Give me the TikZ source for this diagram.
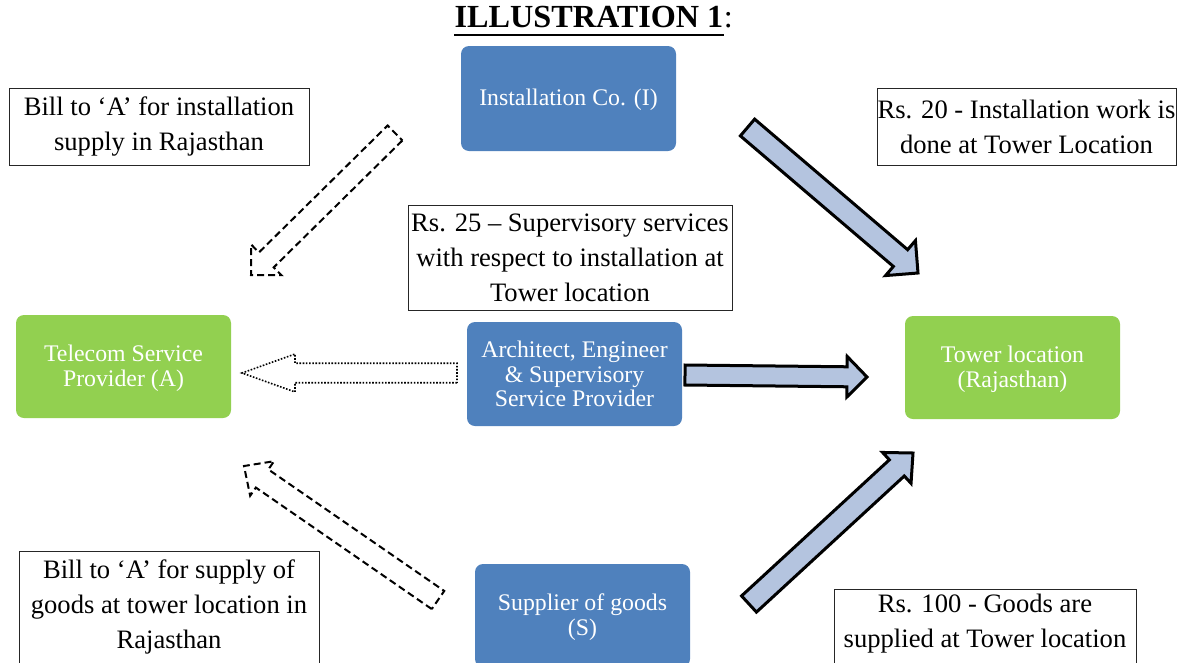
\documentclass[tikz,border=0pt]{standalone}
\usepackage{fontspec}
\setmainfont{Liberation Serif}
\usetikzlibrary{calc}
\definecolor{boxblue}{HTML}{4F81BD}
\definecolor{boxgreen}{HTML}{92D050}
\definecolor{arrfill}{HTML}{B4C4DF}
\newcommand\blockarr[6]{% style, tail, tip, half shaft, half head, head length
  \path ($(#3)!#6!(#2)$) coordinate (hb);
  \draw[#1] ($(#2)!#4!90:(#3)$) -- ($(hb)!#4!90:(#3)$) -- ($(hb)!#5!90:(#3)$) -- (#3)
    -- ($(hb)!#5!-90:(#3)$) -- ($(hb)!#4!-90:(#3)$) -- ($(#2)!#4!-90:(#3)$) -- cycle;
}
\newcommand\lowered[1]{\raisebox{-2.5pt}[\height][\depth]{\begin{tabular}{@{}c@{}}#1\end{tabular}}}
\tikzset{
  cbox/.style={rounded corners=8pt, minimum width=215pt, text=white, align=center,
    font=\fontsize{23.8}{24.5}\selectfont, inner sep=0pt},
  bluebox/.style={cbox, fill=boxblue},
  greenbox/.style={cbox, fill=boxgreen},
  wbox/.style={draw=black!85, line width=1pt, fill=white, align=center,
    font=\fontsize{26.6}{35}\selectfont, inner sep=0pt},
  wtxt/.style={align=center, font=\fontsize{26.6}{35}\selectfont, inner sep=0pt},
  dasharr/.style={line width=2pt, dash pattern=on 7pt off 4pt, line join=miter},
  dotarr/.style={line width=1.6pt, dash pattern=on 1.6pt off 1.6pt},
  solidarr/.style={line width=3pt, fill=arrfill, draw=black, line join=miter}
}
\begin{document}
\begin{tikzpicture}[x=1pt, y=-1pt]
\useasboundingbox (0,0) rectangle (1183,662);
\clip (0,0) rectangle (1183,662);

% title
\node[anchor=base, inner sep=0pt, font=\fontsize{32.2}{36}\selectfont\bfseries] (ttl) at (589,27) {ILLUSTRATION 1};
\node[anchor=base west, inner sep=0pt, font=\fontsize{32.2}{36}\selectfont] (colon) at (ttl.base east) {:};
\draw[line width=2.8pt] ($(ttl.base west)+(0,8)$) -- ($(ttl.base east)+(0,8)$);

% coloured boxes
\node[bluebox, minimum height=105pt] (I) at (568.5,98.5) {\lowered{Installation Co. (I)}};
\node[greenbox, minimum height=103pt] (A) at (123.5,366.5) {\lowered{Telecom Service\\Provider (A)}};
\node[bluebox, minimum height=104pt] (E) at (574.5,374) {Architect, Engineer\\\& Supervisory\\Service Provider};
\node[greenbox, minimum height=103pt] (T) at (1012.5,367.5) {\lowered{Tower location\\(Rajasthan)}};
\node[bluebox, minimum height=103pt] (S) at (582.5,615.5) {\lowered{Supplier of goods\\(S)}};

% white text boxes
\node[wbox, minimum width=300pt, minimum height=77pt] (b1) at (159,126.5) {Bill to `A' for installation\\supply in Rajasthan};
\node[wbox, minimum width=299pt, minimum height=77pt] (r20) at (1026.5,126.5) {Rs. 20 - Installation work is\\done at Tower Location};
\node[wbox, minimum width=324pt, minimum height=105pt] (r25) at (570,257.5) {Rs. 25 -- Supervisory services\\with respect to installation at\\Tower location};
\node[wbox, minimum width=300pt, minimum height=112pt] (b2) at (169,607) {Bill to `A' for supply of\\goods at tower location in\\Rajasthan};
\node[wbox, minimum width=302pt, minimum height=95pt, anchor=north] (r100) at (985,589) {};
\node[wtxt] (r100t) at (985,623.5) {Rs. 100 - Goods are\\supplied at Tower location};

% block arrows
\coordinate (a1s) at (395,133);   \coordinate (a1e) at (251,275);
\coordinate (a2s) at (457,373);   \coordinate (a2e) at (242,373);
\coordinate (a3s) at (438,600);   \coordinate (a3e) at (244,466);
\coordinate (a4s) at (685,375);   \coordinate (a4e) at (867,377);
\coordinate (a5s) at (747.5,127.5); \coordinate (a5e) at (918,273);
\coordinate (a6s) at (749,604);   \coordinate (a6e) at (913,453);

\blockarr{dasharr}{a1s}{a1e}{10.5pt}{21.5pt}{21.5pt}
\blockarr{dotarr}{a2s}{a2e}{9.75pt}{19pt}{53pt}
\blockarr{dasharr}{a3s}{a3e}{11pt}{21pt}{22pt}
\blockarr{solidarr}{a4s}{a4e}{10pt}{20.3pt}{20pt}
\blockarr{solidarr}{a5s}{a5e}{11pt}{23pt}{23pt}
\blockarr{solidarr}{a6s}{a6e}{11pt}{21pt}{22pt}
\end{tikzpicture}
\end{document}
